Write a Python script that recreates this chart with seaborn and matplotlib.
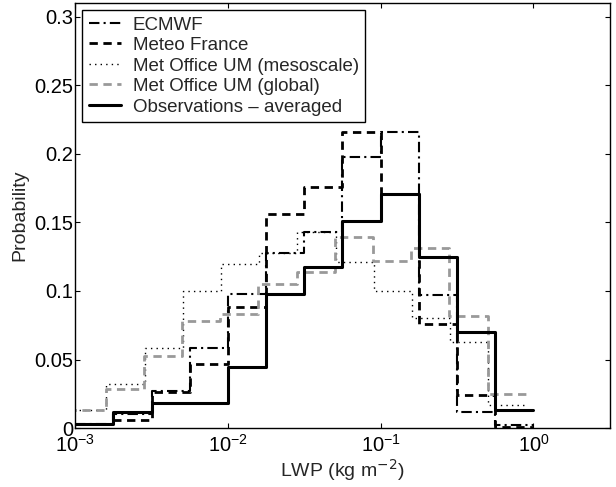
import numpy as np
import pandas as pd
import seaborn as sns
import matplotlib
matplotlib.use("Agg")
import matplotlib.pyplot as plt
from matplotlib.ticker import NullLocator, FormatStrFormatter

# bin edges (log10 of LWP), quarter-decade bins from 1e-3 to 1
log_edges = np.arange(-3, 0.001, 0.25)
shift_global = -0.05   # Met Office global bins sit slightly to the left
shift_meso = -0.045

series_names = ["ECMWF", "Meteo France", "Met Office UM (mesoscale)",
                "Met Office UM (global)", "Observations \u2013 averaged"]

ecmwf = [0.003, 0.0105, 0.027, 0.0585, 0.098, 0.128, 0.143, 0.198, 0.216, 0.097, 0.0117, 0.002]
meteo_france = [0.003, 0.0062, 0.026, 0.0464, 0.088, 0.156, 0.1755, 0.216, 0.171, 0.076, 0.024, 0.001]
um_meso = [0.0134, 0.0318, 0.0585, 0.0996, 0.1195, 0.128, 0.143, 0.1214, 0.100, 0.080, 0.063, 0.0165]
um_global = [0.0134, 0.0287, 0.0522, 0.0784, 0.0835, 0.105, 0.1136, 0.139, 0.122, 0.131, 0.082, 0.0245]
observations = [0.0032, 0.0117, 0.018, 0.018, 0.0445, 0.098, 0.1175, 0.1513, 0.1707, 0.125, 0.070, 0.0134]

values = [ecmwf, meteo_france, um_meso, um_global, observations]
shifts = [0.0, 0.0, shift_meso, shift_global, 0.0]

styles = [
    dict(color="black", linewidth=1.5, dashes=(5, 2, 1, 2)),
    dict(color="black", linewidth=2.0, dashes=(3, 2)),
    dict(color="black", linewidth=1.0, dashes=(1, 3)),
    dict(color="#999999", linewidth=2.0, dashes=(3, 2)),
    dict(color="black", linewidth=2.2, linestyle="-"),
]

sns.set_theme(style="ticks")
plt.rcParams["font.family"] = ["Liberation Sans", "DejaVu Sans"]
plt.rcParams["xtick.direction"] = "in"
plt.rcParams["ytick.direction"] = "in"
plt.rcParams["xtick.top"] = True
plt.rcParams["ytick.right"] = True

fig = plt.figure(figsize=(6.16, 4.87), dpi=100)
ax = fig.add_axes([0.122, 0.121, 0.868, 0.873])

for name, vals, sh, st in zip(series_names, values, shifts, styles):
    edges = [float(e) for e in (log_edges + sh)]
    centers = 10 ** (np.array(edges[:-1]) + 0.125)
    df = pd.DataFrame({"lwp": centers, "prob": vals})
    sns.histplot(data=df, x="lwp", weights="prob", bins=edges, log_scale=True,
                 element="step", fill=False, ax=ax, **st)
    ax.lines[-1].set_label(name)

ax.set_xlim(1e-3, 10 ** 0.5)
ax.set_ylim(0, 0.31)
ax.set_xticks([1e-3, 1e-2, 1e-1, 1e0])
ax.xaxis.set_minor_locator(NullLocator())
ax.set_yticks([0, 0.05, 0.1, 0.15, 0.2, 0.25, 0.3])
ax.yaxis.set_major_formatter(FormatStrFormatter("%g"))
ax.tick_params(labelsize=14.5, length=3.6, width=0.8, colors="black")
ax.tick_params(axis="y", pad=1.5)
ax.tick_params(axis="x", pad=4)
for s in ax.spines.values():
    s.set_linewidth(1.0)
    s.set_color("black")

ax.set_xlabel("LWP (kg m$^{-2}$)", fontsize=14, labelpad=1)
ax.set_ylabel("Probability", fontsize=14, labelpad=4)

leg = ax.legend(loc="upper left", fontsize=13.5, fancybox=False, framealpha=1,
                edgecolor="black", handlelength=1.75, handletextpad=0.6,
                labelspacing=0.18, borderaxespad=0.37, borderpad=0.35)
leg.get_frame().set_linewidth(1.0)

fig.savefig("out.png", dpi=100)
